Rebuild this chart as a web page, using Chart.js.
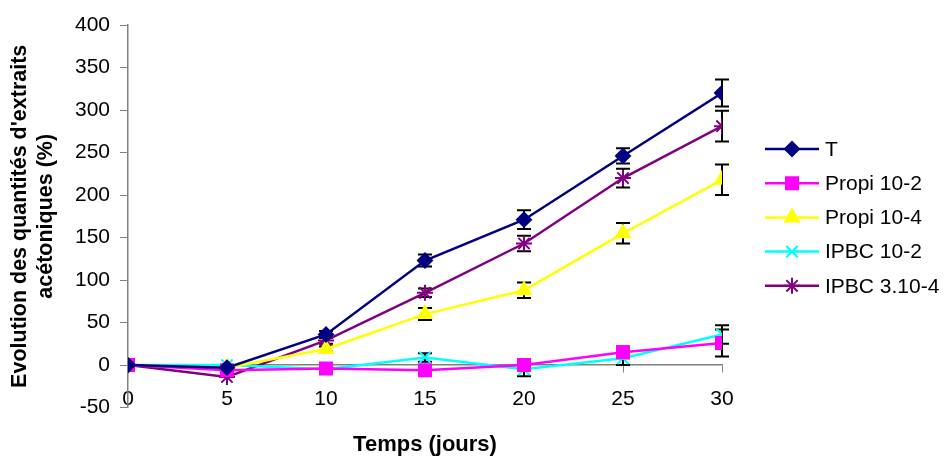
<!DOCTYPE html>
<html>
<head>
<meta charset="utf-8">
<script src="https://cdn.jsdelivr.net/npm/chart.js@4.4.0/dist/chart.umd.min.js"></script>
<style>
html, body { margin: 0; padding: 0; background: #fff; }
#cadre { width: 945px; height: 458px; }
</style>
</head>
<body>
<div id="cadre"><canvas id="graphique" width="945" height="458"></canvas></div>
<script>
const jours = [0, 5, 10, 15, 20, 25, 30];
const nomsSeries = ['T', 'Propi 10-2', 'Propi 10-4', 'IPBC 10-2', 'IPBC 3.10-4'];

const valeursT = [0, -3, 36, 123, 171, 246, 320];
const erreursT = [0, 0, 4, 7, 11, 9, 16];
const valeursPropi2 = [0, -6, -4, -6, 0, 15, 26];
const erreursPropi2 = [0, 0, 3, 6, 3, 7, 16];
const valeursPropi4 = [0, -3, 19, 60, 88, 155, 218];
const erreursPropi4 = [0, 0, 3, 7, 9, 12, 18];
const valeursIpbc2 = [0, 0, -5, 9, -5, 8, 36];
const erreursIpbc2 = [0, 0, 3, 5, 8, 8, 11];
const valeursIpbc3 = [0, -14, 29, 85, 143, 220, 281];
const erreursIpbc3 = [0, 0, 4, 5, 9, 11, 18];

const minY = -50, maxY = 400, pasY = 50;
const minX = 0, maxX = 30, pasX = 5;

const police = '"Liberation Sans", Arial, sans-serif';

function serie(nom, valeurs, erreurs, couleur, forme, rayon) {
    return {
        label: nom,
        data: jours.map((j, i) => ({ x: j, y: valeurs[i] })),
        erreurs: erreurs,
        borderColor: couleur,
        backgroundColor: couleur,
        borderWidth: 2.5,
        pointStyle: forme,
        pointRadius: rayon,
        pointHoverRadius: rayon,
        pointBorderWidth: 2,
        tension: 0
    };
}

// barres d'erreur dessinées avec les échelles du graphique
const barresErreur = {
    id: 'barresErreur',
    beforeDatasetsDraw(chart) {
        const ctx = chart.ctx;
        const sx = chart.scales.x, sy = chart.scales.y;
        ctx.save();
        ctx.strokeStyle = '#000';
        ctx.lineWidth = 2;
        chart.data.datasets.forEach(ds => {
            ds.erreurs.forEach((e, i) => {
                if (!e) return;
                const x = sx.getPixelForValue(ds.data[i].x);
                const haut = sy.getPixelForValue(ds.data[i].y + e);
                const bas = sy.getPixelForValue(ds.data[i].y - e);
                ctx.beginPath();
                ctx.moveTo(x, haut); ctx.lineTo(x, bas);
                ctx.moveTo(x - 7, haut); ctx.lineTo(x + 7, haut);
                ctx.moveTo(x - 7, bas); ctx.lineTo(x + 7, bas);
                ctx.stroke();
            });
        });
        ctx.restore();
    }
};

// légende à droite : trait + marqueur comme dans Excel
const legende = {
    id: 'legende',
    afterDraw(chart) {
        const ctx = chart.ctx;
        const x0 = chart.chartArea.right + 43;
        ctx.save();
        chart.data.datasets.forEach((ds, i) => {
            const y = 149 + i * 34.2;
            ctx.strokeStyle = ds.borderColor;
            ctx.fillStyle = ds.backgroundColor;
            ctx.lineWidth = 2.5;
            ctx.beginPath();
            ctx.moveTo(x0, y); ctx.lineTo(x0 + 54, y);
            ctx.stroke();
            ctx.lineWidth = 2;
            Chart.helpers.drawPoint(ctx, { pointStyle: ds.pointStyle, radius: ds.pointRadius, borderWidth: 2, rotation: 0 }, x0 + 27, y);
            ctx.fillStyle = '#000';
            ctx.font = '21px ' + police;
            ctx.textBaseline = 'middle';
            ctx.fillText(ds.label, x0 + 60, y + 1);
        });
        ctx.restore();
    }
};

new Chart(document.getElementById('graphique').getContext('2d'), {
    type: 'line',
    data: {
        datasets: [
            serie(nomsSeries[0], valeursT, erreursT, '#000080', 'rectRot', 7),
            serie(nomsSeries[1], valeursPropi2, erreursPropi2, '#FF00FF', 'rect', 8.5),
            serie(nomsSeries[2], valeursPropi4, erreursPropi4, '#FFFF00', 'triangle', 8),
            serie(nomsSeries[3], valeursIpbc2, erreursIpbc2, '#00FFFF', 'crossRot', 8),
            serie(nomsSeries[4], valeursIpbc3, erreursIpbc3, '#800080', 'star', 8)
        ]
    },
    options: {
        responsive: false,
        animation: false,
        devicePixelRatio: 1,
        layout: { padding: { left: 0, right: 223, top: 25, bottom: 0 } },
        plugins: {
            legend: { display: false },
            tooltip: { enabled: false },
            title: {
                display: true,
                text: 'Temps (jours)',
                position: 'bottom',
                fullSize: false,
                color: '#000',
                font: { family: police, size: 22, weight: 'bold' },
                padding: { top: 24, bottom: 0 }
            }
        },
        scales: {
            x: {
                type: 'linear',
                min: minX, max: maxX,
                position: { y: 0 },
                ticks: { stepSize: pasX, color: '#000', font: { family: police, size: 21 }, padding: 15, maxRotation: 0 },
                grid: { drawOnChartArea: false, drawTicks: true, tickLength: 7, color: '#808080' },
                border: { color: '#808080', width: 1.5 }
            },
            y: {
                min: minY, max: maxY,
                ticks: { stepSize: pasY, color: '#000', font: { family: police, size: 21 }, padding: 10 },
                grid: { drawOnChartArea: false, drawTicks: true, tickLength: 8, color: '#808080' },
                border: { color: '#808080', width: 1.5 },
                title: {
                    display: true,
                    text: ["Evolution des quantités d'extraits", 'acétoniques (%)'],
                    color: '#000',
                    font: { family: police, size: 21.5, weight: 'bold' },
                    padding: { top: 7, bottom: 4 }
                },
                afterFit(s) { s.width = 128; }
            }
        }
    },
    plugins: [barresErreur, legende]
});
</script>
</body>
</html>
